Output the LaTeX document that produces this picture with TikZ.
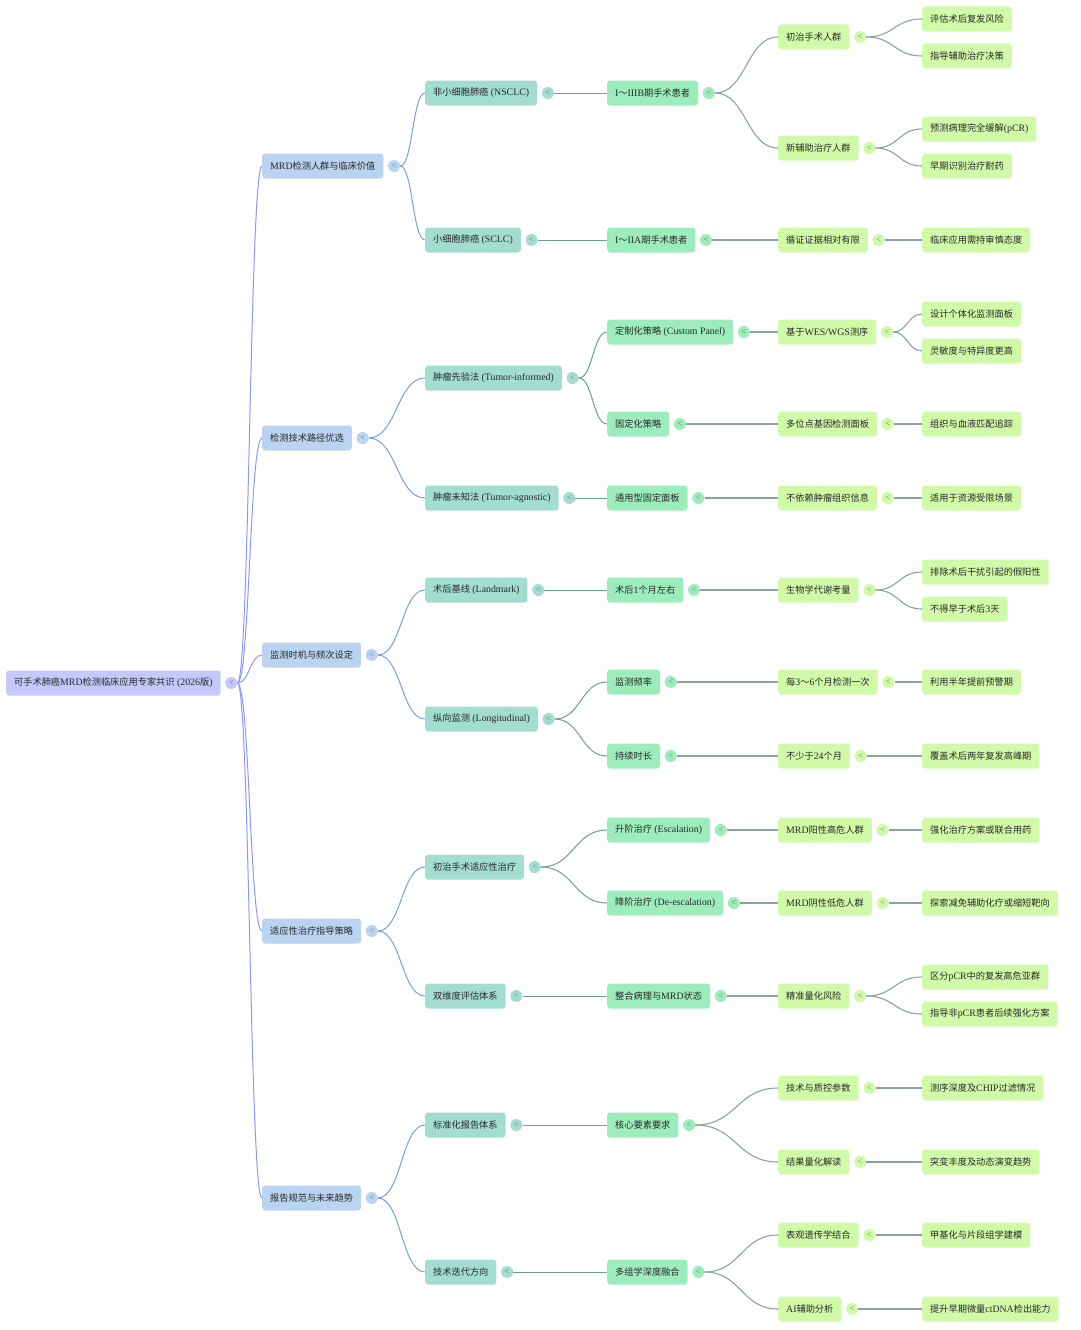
\documentclass[tikz,border=0pt]{standalone}
\usepackage{fontspec}
\setmainfont{Noto Sans CJK SC}
\newfontfamily\enf[Scale=1.07]{Liberation Serif}
\newcommand\EN[1]{{\enf #1}}
\usetikzlibrary{calc}
\definecolor{c0}{RGB}{197,200,250}
\definecolor{c1}{RGB}{185,211,240}
\definecolor{c2}{RGB}{163,221,208}
\definecolor{c3}{RGB}{157,236,188}
\definecolor{c4}{RGB}{208,250,168}
\definecolor{ce1}{RGB}{140,152,245}
\definecolor{ce2}{RGB}{120,160,215}
\definecolor{ce3}{RGB}{108,160,140}
\definecolor{ce4}{RGB}{135,165,152}
\definecolor{txt}{RGB}{40,40,40}
\tikzset{
  box/.style={rounded corners=3pt, minimum height=25pt, inner xsep=8pt, inner ysep=0pt,
    anchor=west, text=txt, font=\fontsize{9.2}{11}\selectfont},
  dot/.style={circle, inner sep=0pt, minimum size=12pt, text=black!55,
    font=\enf\fontsize{8}{8}\selectfont},
  lnk/.style={to path={let \p1=(\tikztostart), \p2=(\tikztotarget) in
    .. controls ({0.5*\x1+0.5*\x2},\y1) and ({0.5*\x1+0.5*\x2},\y2) .. (\tikztotarget)}},
  ln1/.style={draw=ce1, line width=1pt, lnk},
  ln2/.style={draw=ce2, line width=1pt, lnk},
  ln3/.style={draw=ce3, line width=1pt, lnk},
  ln4/.style={draw=ce4, line width=1.1pt, lnk},
}
\newcommand\mm[5]{%
  \node[box, fill=#4] (#1) at (#2,#3) {#5};
  \node[dot, fill=#4] (#1d) at ([xshift=10.5pt]#1.east) {<};}
\newcommand\mleaf[4]{%
  \node[box, fill=c4] (#1) at (#2,#3) {#4};}
\begin{document}
\begin{tikzpicture}[x=1pt, y=-1pt]
\useasboundingbox (0,0) rectangle (1080,1330);
% root
\mm{r}{6}{683}{c0}{可手术肺癌\EN{MRD}检测临床应用专家共识\EN{ (2026}版\EN{)}}
% level 1
\mm{A}{262}{166}{c1}{\EN{MRD}检测人群与临床价值}
\mm{B}{262}{438}{c1}{检测技术路径优选}
\mm{C}{262}{655}{c1}{监测时机与频次设定}
\mm{D}{262}{931}{c1}{适应性治疗指导策略}
\mm{E}{262}{1198}{c1}{报告规范与未来趋势}
% level 2
\mm{A1}{425}{93}{c2}{非小细胞肺癌\EN{ (NSCLC)}}
\mm{A2}{425}{240}{c2}{小细胞肺癌\EN{ (SCLC)}}
\mm{B1}{425}{378}{c2}{肿瘤先验法\EN{ (Tumor-informed)}}
\mm{B2}{425}{498}{c2}{肿瘤未知法\EN{ (Tumor-agnostic)}}
\mm{C1}{425}{590}{c2}{术后基线\EN{ (Landmark)}}
\mm{C2}{425}{719}{c2}{纵向监测\EN{ (Longitudinal)}}
\mm{D1}{425}{867}{c2}{初治手术适应性治疗}
\mm{D2}{425}{996}{c2}{双维度评估体系}
\mm{E1}{425}{1125}{c2}{标准化报告体系}
\mm{E2}{425}{1272}{c2}{技术迭代方向}
% level 3
\mm{A1a}{607}{93}{c3}{\EN{I}～\EN{IIIB}期手术患者}
\mm{A2a}{607}{240}{c3}{\EN{I}～\EN{IIA}期手术患者}
\mm{B1a}{607}{332}{c3}{定制化策略\EN{ (Custom Panel)}}
\mm{B1b}{607}{424}{c3}{固定化策略}
\mm{B2a}{607}{498}{c3}{通用型固定面板}
\mm{C1a}{607}{590}{c3}{术后\EN{1}个月左右}
\mm{C2a}{607}{682}{c3}{监测频率}
\mm{C2b}{607}{756}{c3}{持续时长}
\mm{D1a}{607}{830}{c3}{升阶治疗\EN{ (Escalation)}}
\mm{D1b}{607}{903}{c3}{降阶治疗\EN{ (De-escalation)}}
\mm{D2a}{607}{996}{c3}{整合病理与\EN{MRD}状态}
\mm{E1a}{607}{1125}{c3}{核心要素要求}
\mm{E2a}{607}{1272}{c3}{多组学深度融合}
% level 4
\mm{Pa}{778}{37}{c4}{初治手术人群}
\mm{Pb}{778}{148}{c4}{新辅助治疗人群}
\mm{Pc}{778}{240}{c4}{循证证据相对有限}
\mm{Pd}{778}{332}{c4}{基于\EN{WES/WGS}测序}
\mm{Pe}{778}{424}{c4}{多位点基因检测面板}
\mm{Pf}{778}{498}{c4}{不依赖肿瘤组织信息}
\mm{Pg}{778}{590}{c4}{生物学代谢考量}
\mm{Ph}{778}{682}{c4}{每\EN{3}～\EN{6}个月检测一次}
\mm{Pi}{778}{756}{c4}{不少于\EN{24}个月}
\mm{Pj}{778}{830}{c4}{\EN{MRD}阳性高危人群}
\mm{Pk}{778}{903}{c4}{\EN{MRD}阴性低危人群}
\mm{Pl}{778}{996}{c4}{精准量化风险}
\mm{Pm}{778}{1088}{c4}{技术与质控参数}
\mm{Pn}{778}{1162}{c4}{结果量化解读}
\mm{Po}{778}{1235}{c4}{表观遗传学结合}
\mm{Pp}{778}{1309}{c4}{\EN{AI}辅助分析}
% level 5
\mleaf{Q1}{922}{19}{评估术后复发风险}
\mleaf{Q2}{922}{56}{指导辅助治疗决策}
\mleaf{Q3}{922}{129}{预测病理完全缓解\EN{(pCR)}}
\mleaf{Q4}{922}{166}{早期识别治疗耐药}
\mleaf{Q5}{922}{240}{临床应用需持审慎态度}
\mleaf{Q6}{922}{314}{设计个体化监测面板}
\mleaf{Q7}{922}{351}{灵敏度与特异度更高}
\mleaf{Q8}{922}{424}{组织与血液匹配追踪}
\mleaf{Q9}{922}{498}{适用于资源受限场景}
\mleaf{Q10}{922}{572}{排除术后干扰引起的假阳性}
\mleaf{Q11}{922}{609}{不得早于术后\EN{3}天}
\mleaf{Q12}{922}{682}{利用半年提前预警期}
\mleaf{Q13}{922}{756}{覆盖术后两年复发高峰期}
\mleaf{Q14}{922}{830}{强化治疗方案或联合用药}
\mleaf{Q15}{922}{903}{探索减免辅助化疗或缩短靶向}
\mleaf{Q16}{922}{977}{区分\EN{pCR}中的复发高危亚群}
\mleaf{Q17}{922}{1014}{指导非\EN{pCR}患者后续强化方案}
\mleaf{Q18}{922}{1088}{测序深度及\EN{CHIP}过滤情况}
\mleaf{Q19}{922}{1162}{突变丰度及动态演变趋势}
\mleaf{Q20}{922}{1235}{甲基化与片段组学建模}
\mleaf{Q21}{922}{1309}{提升早期微量\EN{ctDNA}检出能力}
% edges level 1
\foreach \c in {A,B,C,D,E} \draw[ln1] (rd.east) to (\c.west);
% edges level 2
\draw[ln2] (Ad.east) to (A1.west);
\draw[ln2] (Ad.east) to (A2.west);
\draw[ln2] (Bd.east) to (B1.west);
\draw[ln2] (Bd.east) to (B2.west);
\draw[ln2] (Cd.east) to (C1.west);
\draw[ln2] (Cd.east) to (C2.west);
\draw[ln2] (Dd.east) to (D1.west);
\draw[ln2] (Dd.east) to (D2.west);
\draw[ln2] (Ed.east) to (E1.west);
\draw[ln2] (Ed.east) to (E2.west);
% edges level 3
\draw[ln3] (A1d.east) to (A1a.west);
\draw[ln3] (A2d.east) to (A2a.west);
\draw[ln3] (B1d.east) to (B1a.west);
\draw[ln3] (B1d.east) to (B1b.west);
\draw[ln3] (B2d.east) to (B2a.west);
\draw[ln3] (C1d.east) to (C1a.west);
\draw[ln3] (C2d.east) to (C2a.west);
\draw[ln3] (C2d.east) to (C2b.west);
\draw[ln3] (D1d.east) to (D1a.west);
\draw[ln3] (D1d.east) to (D1b.west);
\draw[ln3] (D2d.east) to (D2a.west);
\draw[ln3] (E1d.east) to (E1a.west);
\draw[ln3] (E2d.east) to (E2a.west);
% edges level 4
\draw[ln4] (A1ad.east) to (Pa.west);
\draw[ln4] (A1ad.east) to (Pb.west);
\draw[ln4] (A2ad.east) to (Pc.west);
\draw[ln4] (B1ad.east) to (Pd.west);
\draw[ln4] (B1bd.east) to (Pe.west);
\draw[ln4] (B2ad.east) to (Pf.west);
\draw[ln4] (C1ad.east) to (Pg.west);
\draw[ln4] (C2ad.east) to (Ph.west);
\draw[ln4] (C2bd.east) to (Pi.west);
\draw[ln4] (D1ad.east) to (Pj.west);
\draw[ln4] (D1bd.east) to (Pk.west);
\draw[ln4] (D2ad.east) to (Pl.west);
\draw[ln4] (E1ad.east) to (Pm.west);
\draw[ln4] (E1ad.east) to (Pn.west);
\draw[ln4] (E2ad.east) to (Po.west);
\draw[ln4] (E2ad.east) to (Pp.west);
% edges level 5
\draw[ln4] (Pad.east) to (Q1.west);
\draw[ln4] (Pad.east) to (Q2.west);
\draw[ln4] (Pbd.east) to (Q3.west);
\draw[ln4] (Pbd.east) to (Q4.west);
\draw[ln4] (Pcd.east) to (Q5.west);
\draw[ln4] (Pdd.east) to (Q6.west);
\draw[ln4] (Pdd.east) to (Q7.west);
\draw[ln4] (Ped.east) to (Q8.west);
\draw[ln4] (Pfd.east) to (Q9.west);
\draw[ln4] (Pgd.east) to (Q10.west);
\draw[ln4] (Pgd.east) to (Q11.west);
\draw[ln4] (Phd.east) to (Q12.west);
\draw[ln4] (Pid.east) to (Q13.west);
\draw[ln4] (Pjd.east) to (Q14.west);
\draw[ln4] (Pkd.east) to (Q15.west);
\draw[ln4] (Pld.east) to (Q16.west);
\draw[ln4] (Pld.east) to (Q17.west);
\draw[ln4] (Pmd.east) to (Q18.west);
\draw[ln4] (Pnd.east) to (Q19.west);
\draw[ln4] (Pod.east) to (Q20.west);
\draw[ln4] (Ppd.east) to (Q21.west);
\end{tikzpicture}
\end{document}
